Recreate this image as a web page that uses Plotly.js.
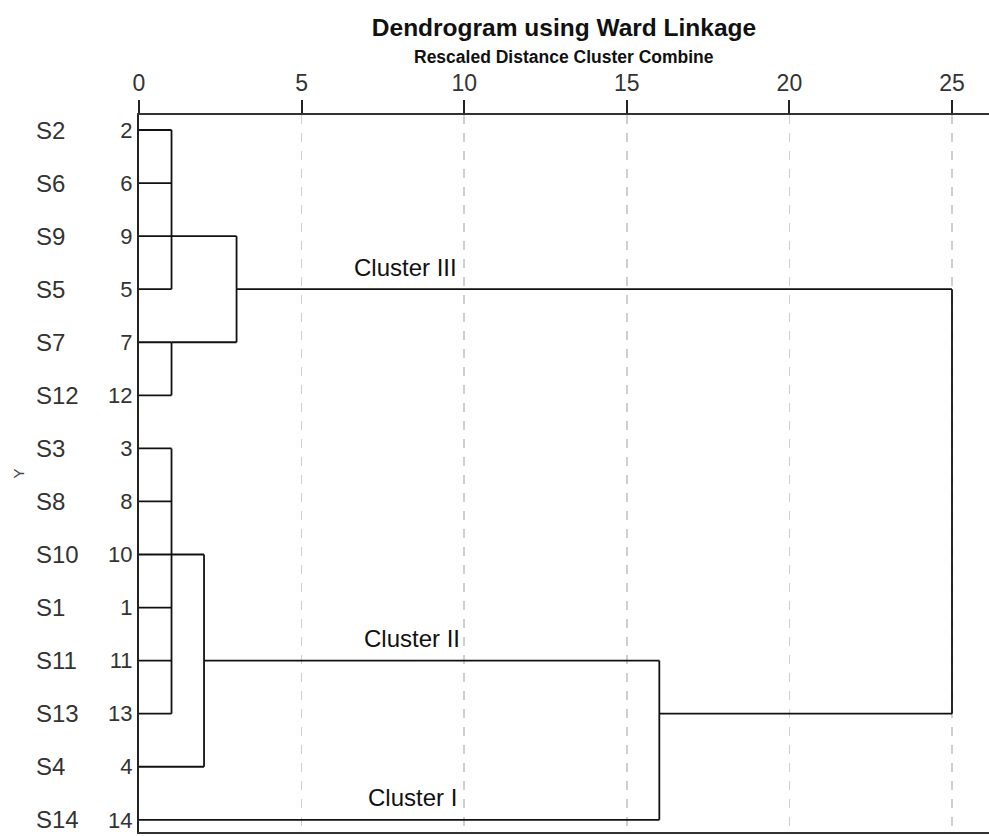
<!DOCTYPE html>
<html>
<head>
<meta charset="utf-8">
<script src="https://cdn.plot.ly/plotly-3.0.1.min.js"></script>
<style>html,body{margin:0;padding:0;background:#fff;}#chart{width:989px;height:836px;}</style>
</head>
<body>
<div id="chart"></div>
<script>
// Leaf order (top to bottom)
const leafLabels = ['S2','S6','S9','S5','S7','S12','S3','S8','S10','S1','S11','S13','S4','S14'];
const caseNumbers = [2,6,9,5,7,12,3,8,10,1,11,13,4,14];
// Merges: children are "L<i>" (leaf row index) or "M<j>" (earlier merge)
const mergeChildren = [
  ['L0','L1','L2','L3'],
  ['L4','L5'],
  ['L6','L7','L8','L9','L10','L11'],
  ['M0','M1'],
  ['M2','L12'],
  ['M4','L13'],
  ['M3','M5']
];
const mergeHeights = [1, 1, 1, 3, 2, 16, 25];
const mergeOutRow = [2, 4, 8, 3, 10, 11, null];
const clusterNames = ['Cluster III', 'Cluster II', 'Cluster I'];
const clusterRows = [3, 10, 13];
const clusterX = [8.2, 8.4, 8.4];
const xTicks = [0, 5, 10, 15, 20, 25];

const FONT = 'Liberation Sans, Arial, sans-serif';
const xs = [], ys = [];
function childPos(c) {
  const idx = parseInt(c.slice(1));
  if (c[0] === 'L') return {x: 0, row: idx};
  return {x: mergeHeights[idx], row: mergeOutRow[idx]};
}
mergeChildren.forEach((children, j) => {
  const h = mergeHeights[j];
  const rows = [];
  children.forEach(c => {
    const p = childPos(c);
    rows.push(p.row);
    xs.push(p.x, h, null); ys.push(p.row, p.row, null);
  });
  xs.push(h, h, null); ys.push(Math.min(...rows), Math.max(...rows), null);
});

const traces = [{
  type: 'scatter', mode: 'lines', x: xs, y: ys,
  line: {color: '#111', width: 1.8}, hoverinfo: 'skip', showlegend: false
}];

const rows = leafLabels.map((_, i) => i);
const annotations = leafLabels.map((s, i) => ({
  text: s, xref: 'paper', yref: 'y', x: (34 - 139) / 850, y: i,
  xanchor: 'left', yanchor: 'middle', showarrow: false,
  font: {family: FONT, size: 24, color: '#333'}
}));
clusterNames.forEach((n, i) => annotations.push({
  text: n, xref: 'x', yref: 'y', x: clusterX[i], y: clusterRows[i],
  xanchor: 'center', yanchor: 'middle', yshift: 22, showarrow: false,
  font: {family: FONT, size: 24, color: '#111'}
}));
annotations.push({
  text: 'Y', xref: 'paper', yref: 'paper', x: (18 - 139) / 850, y: 0.5,
  xanchor: 'center', yanchor: 'middle', textangle: -90, showarrow: false,
  font: {family: FONT, size: 15, color: '#444'}
});
annotations.push({
  text: '<b>Rescaled Distance Cluster Combine</b>', xref: 'paper', yref: 'paper',
  x: 0.5, y: 1, yshift: 58, xanchor: 'center', yanchor: 'middle', showarrow: false,
  font: {family: FONT, size: 17.5, color: '#111'}
});

const layout = {
  width: 989, height: 836,
  margin: {l: 139, r: 0, t: 115, b: 4},
  paper_bgcolor: '#fff', plot_bgcolor: '#fff',
  title: {text: '<b>Dendrogram using Ward Linkage</b>', x: 0.5, xref: 'paper', xanchor: 'center',
          y: 1 - 27 / 836, yref: 'container', yanchor: 'middle',
          font: {family: FONT, size: 24.5, color: '#111'}},
  xaxis: {
    side: 'top', range: [0, 850 / 32.52], tickvals: xTicks, ticktext: xTicks.map(String),
    ticks: 'outside', ticklen: 13, tickwidth: 2, tickcolor: '#222',
    showline: true, linecolor: '#333', linewidth: 2, mirror: true,
    showgrid: true, gridcolor: '#cfcfcf', gridwidth: 1.5, griddash: 'dash',
    zeroline: false,
    tickfont: {family: FONT, size: 23, color: '#333'}
  },
  yaxis: {
    range: [13.23, -0.283], tickvals: rows, ticktext: caseNumbers.map(String),
    ticks: '', showline: true, linecolor: '#222', linewidth: 2,
    showgrid: false, zeroline: false,
    tickfont: {family: FONT, size: 22, color: '#333'}
  },
  annotations: annotations
};
Plotly.newPlot('chart', traces, layout, {displayModeBar: false, staticPlot: true});
</script>
</body>
</html>
